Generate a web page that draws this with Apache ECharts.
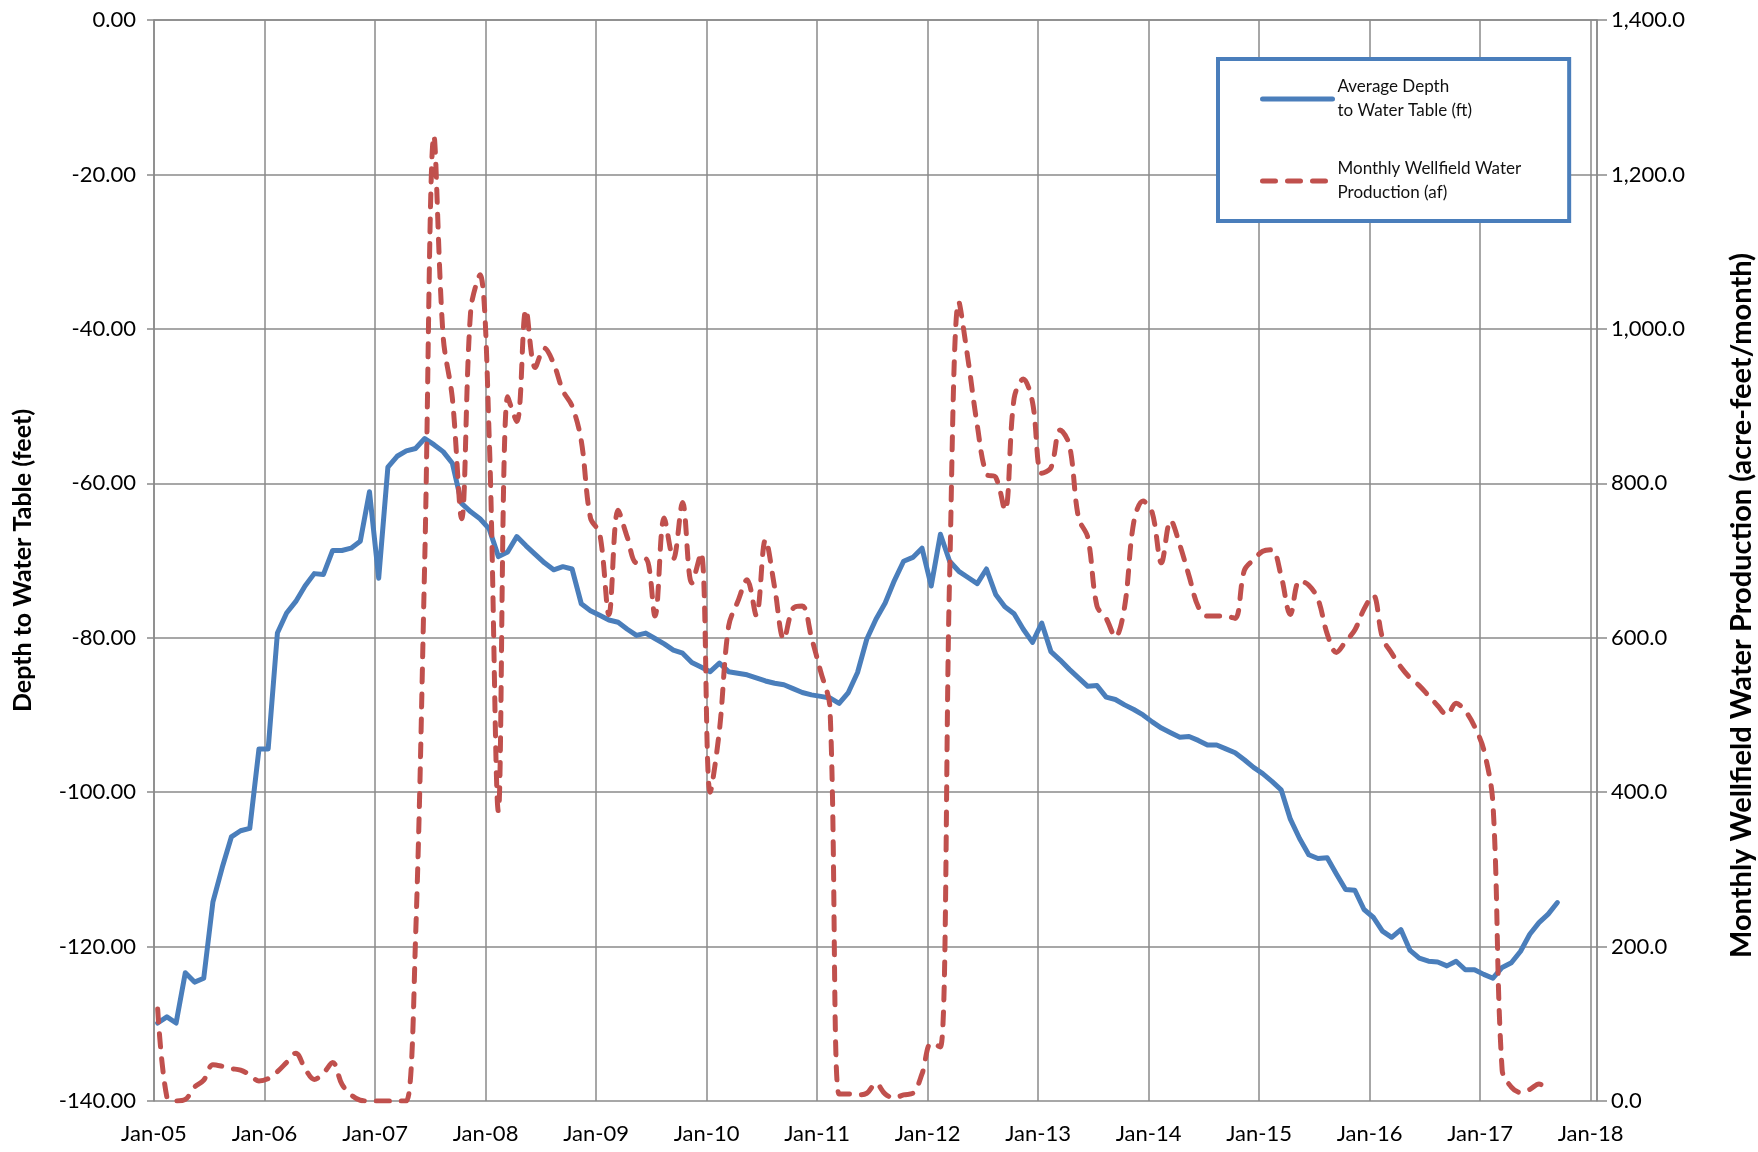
<!DOCTYPE html>
<html>
<head>
<meta charset="utf-8">
<script src="https://cdn.jsdelivr.net/npm/echarts@6/dist/echarts.min.js"></script>
<style>
html,body{margin:0;padding:0;background:#fff;}
#chart{width:1758px;height:1152px;}
</style>
</head>
<body>
<div id="chart"></div>
<script>
// Tick labels of the date axis (one per January)
const xTickLabels = ['Jan-05','Jan-06','Jan-07','Jan-08','Jan-09','Jan-10','Jan-11','Jan-12','Jan-13','Jan-14','Jan-15','Jan-16','Jan-17','Jan-18'];
// Monthly readings starting Jan-2005 (measurement taken part-way through each month)
const readingDayFraction = 0.4;
// Average depth to water table (ft), monthly from Jan-05
const depthFt = [
-129.9,-129.1,-129.9,-123.4,-124.6,-124.1,-114.2,-109.8,-105.8,-105.0,-104.7,-94.4,
-94.4,-79.4,-76.8,-75.3,-73.3,-71.7,-71.8,-68.7,-68.7,-68.4,-67.5,-61.1,
-72.3,-57.9,-56.5,-55.8,-55.5,-54.2,-55.0,-55.9,-57.4,-62.6,-63.7,-64.6,
-65.9,-69.5,-68.9,-66.9,-68.1,-69.2,-70.3,-71.2,-70.8,-71.1,-75.6,-76.5,
-77.1,-77.7,-78.0,-78.9,-79.7,-79.4,-80.1,-80.8,-81.6,-82.0,-83.2,-83.8,
-84.4,-83.3,-84.4,-84.6,-84.8,-85.2,-85.6,-85.9,-86.1,-86.6,-87.1,-87.4,
-87.6,-87.8,-88.5,-87.1,-84.5,-80.2,-77.6,-75.5,-72.6,-70.1,-69.6,-68.4,
-73.3,-66.6,-70.1,-71.4,-72.2,-73.0,-71.1,-74.4,-76.0,-76.9,-78.9,-80.6,
-78.1,-81.8,-82.9,-84.1,-85.2,-86.3,-86.2,-87.7,-88.0,-88.7,-89.3,-90.0,
-90.9,-91.7,-92.3,-92.9,-92.8,-93.3,-93.9,-93.9,-94.4,-94.9,-95.8,-96.8,
-97.6,-98.6,-99.7,-103.5,-106.0,-108.1,-108.6,-108.5,-110.6,-112.6,-112.7,-115.2,
-116.2,-118.0,-118.8,-117.8,-120.5,-121.5,-121.9,-122.0,-122.5,-121.9,-123.0,-123.0,
-123.6,-124.1,-122.7,-122.1,-120.6,-118.4,-116.9,-115.8,-114.3
];
// Monthly wellfield water production (acre-feet), monthly from Jan-05
const productionAf = [
119,5,0,2,18,27,47,45,42,40,34,26,
29,38,50,62,42,28,36,50,22,8,1,0,
0,0,0,0,210,700,1250,990,910,754,1025,1070,
860,375,912,880,1025,950,975,955,920,900,855,755,
735,630,765,730,697,702,628,755,702,775,671,710,
400,480,615,647,675,629,727,665,598,638,641,600,
556,510,9,9,8,10,23,9,4,8,10,35,
75,70,680,1035,960,875,812,808,765,910,935,905,
813,820,869,850,755,730,641,625,601,640,750,777,
762,697,752,720,680,640,628,628,628,625,687,701,
712,714,680,630,674,668,650,605,581,595,610,637,
655,600,580,562,548,538,525,512,500,515,505,485,
455,385,40,18,11,15,22,13
];
const depthName = 'Average Depth\nto Water Table (ft)';
const prodName = 'Monthly Wellfield Water\nProduction (af)';

const toPoints = arr => arr.map((v, i) => [i + readingDayFraction, v]);
const FONT = 'Lato';
const gridColor = '#8a8a8a';
const blue = '#4A7EBB';
const red = '#C0504D';

const chart = echarts.init(document.getElementById('chart'), null, {renderer: 'canvas'});
chart.setOption({
  animation: false,
  backgroundColor: '#ffffff',
  grid: {left: 154, right: 161, top: 20, bottom: 51, containLabel: false, outerBoundsMode: 'none'},
  legend: {
    orient: 'vertical',
    left: 1218, top: 59,
    backgroundColor: '#ffffff',
    borderColor: blue, borderWidth: 4, borderRadius: 0,
    padding: [16, 48, 16, 42],
    itemWidth: 70, itemHeight: 14, itemGap: 34,
    textStyle: {fontFamily: FONT, fontSize: 17, color: '#111', lineHeight: 24},
    itemStyle: {opacity: 0},
    lineStyle: {width: 5},
    data: [depthName, prodName]
  },
  xAxis: {
    type: 'value', min: 0, max: 156.7, interval: 12,
    axisLine: {show: true, lineStyle: {color: gridColor, width: 1.5}},
    axisTick: {show: false},
    splitLine: {show: true, lineStyle: {color: gridColor, width: 1.5}},
    axisLabel: {
      margin: 22, fontFamily: FONT, fontSize: 22, color: '#000',
      showMaxLabel: false,
      formatter: v => (Math.abs(v % 12) < 1e-6 ? (xTickLabels[Math.round(v / 12)] || '') : '')
    }
  },
  yAxis: [
    {
      type: 'value', min: -140, max: 0, interval: 20, position: 'left',
      name: 'Depth to Water Table (feet)', nameLocation: 'middle', nameRotate: 90, nameGap: 119,
      nameTextStyle: {fontFamily: FONT, fontSize: 25, fontWeight: 'bold', color: '#000'},
      axisLine: {show: true, lineStyle: {color: gridColor, width: 1.5}},
      axisTick: {show: true, inside: false, length: 7, lineStyle: {color: gridColor, width: 1.5}},
      splitLine: {show: true, lineStyle: {color: gridColor, width: 1.5}},
      axisLabel: {margin: 18, fontFamily: FONT, fontSize: 22, color: '#000', formatter: v => v.toFixed(2)}
    },
    {
      type: 'value', min: 0, max: 1400, interval: 200, position: 'right',
      name: 'Monthly Wellfield Water Production (acre-feet/month)', nameLocation: 'middle', nameRotate: 90, nameGap: 130,
      nameTextStyle: {fontFamily: FONT, fontSize: 29, fontWeight: 'bold', color: '#000', padding: [0, 90, 0, 0]},
      axisLine: {show: true, lineStyle: {color: gridColor, width: 1.5}},
      axisTick: {show: true, inside: false, length: 10, lineStyle: {color: gridColor, width: 1.5}},
      splitLine: {show: false},
      axisLabel: {
        margin: 14, fontFamily: FONT, fontSize: 22, color: '#000',
        formatter: v => v.toLocaleString('en-US', {minimumFractionDigits: 1, maximumFractionDigits: 1})
      }
    }
  ],
  series: [
    {
      name: depthName, type: 'line', yAxisIndex: 0, data: toPoints(depthFt),
      showSymbol: false, symbol: 'none', smooth: false,
      lineStyle: {color: blue, width: 5, cap: 'round', join: 'round'},
      itemStyle: {color: blue}, z: 2
    },
    {
      name: prodName, type: 'line', yAxisIndex: 1, data: toPoints(productionAf),
      showSymbol: false, symbol: 'none', smooth: 0.35,
      lineStyle: {color: red, width: 5, type: [13, 12], cap: 'round', join: 'round'},
      itemStyle: {color: red}, z: 3
    }
  ]
});
</script>
</body>
</html>
